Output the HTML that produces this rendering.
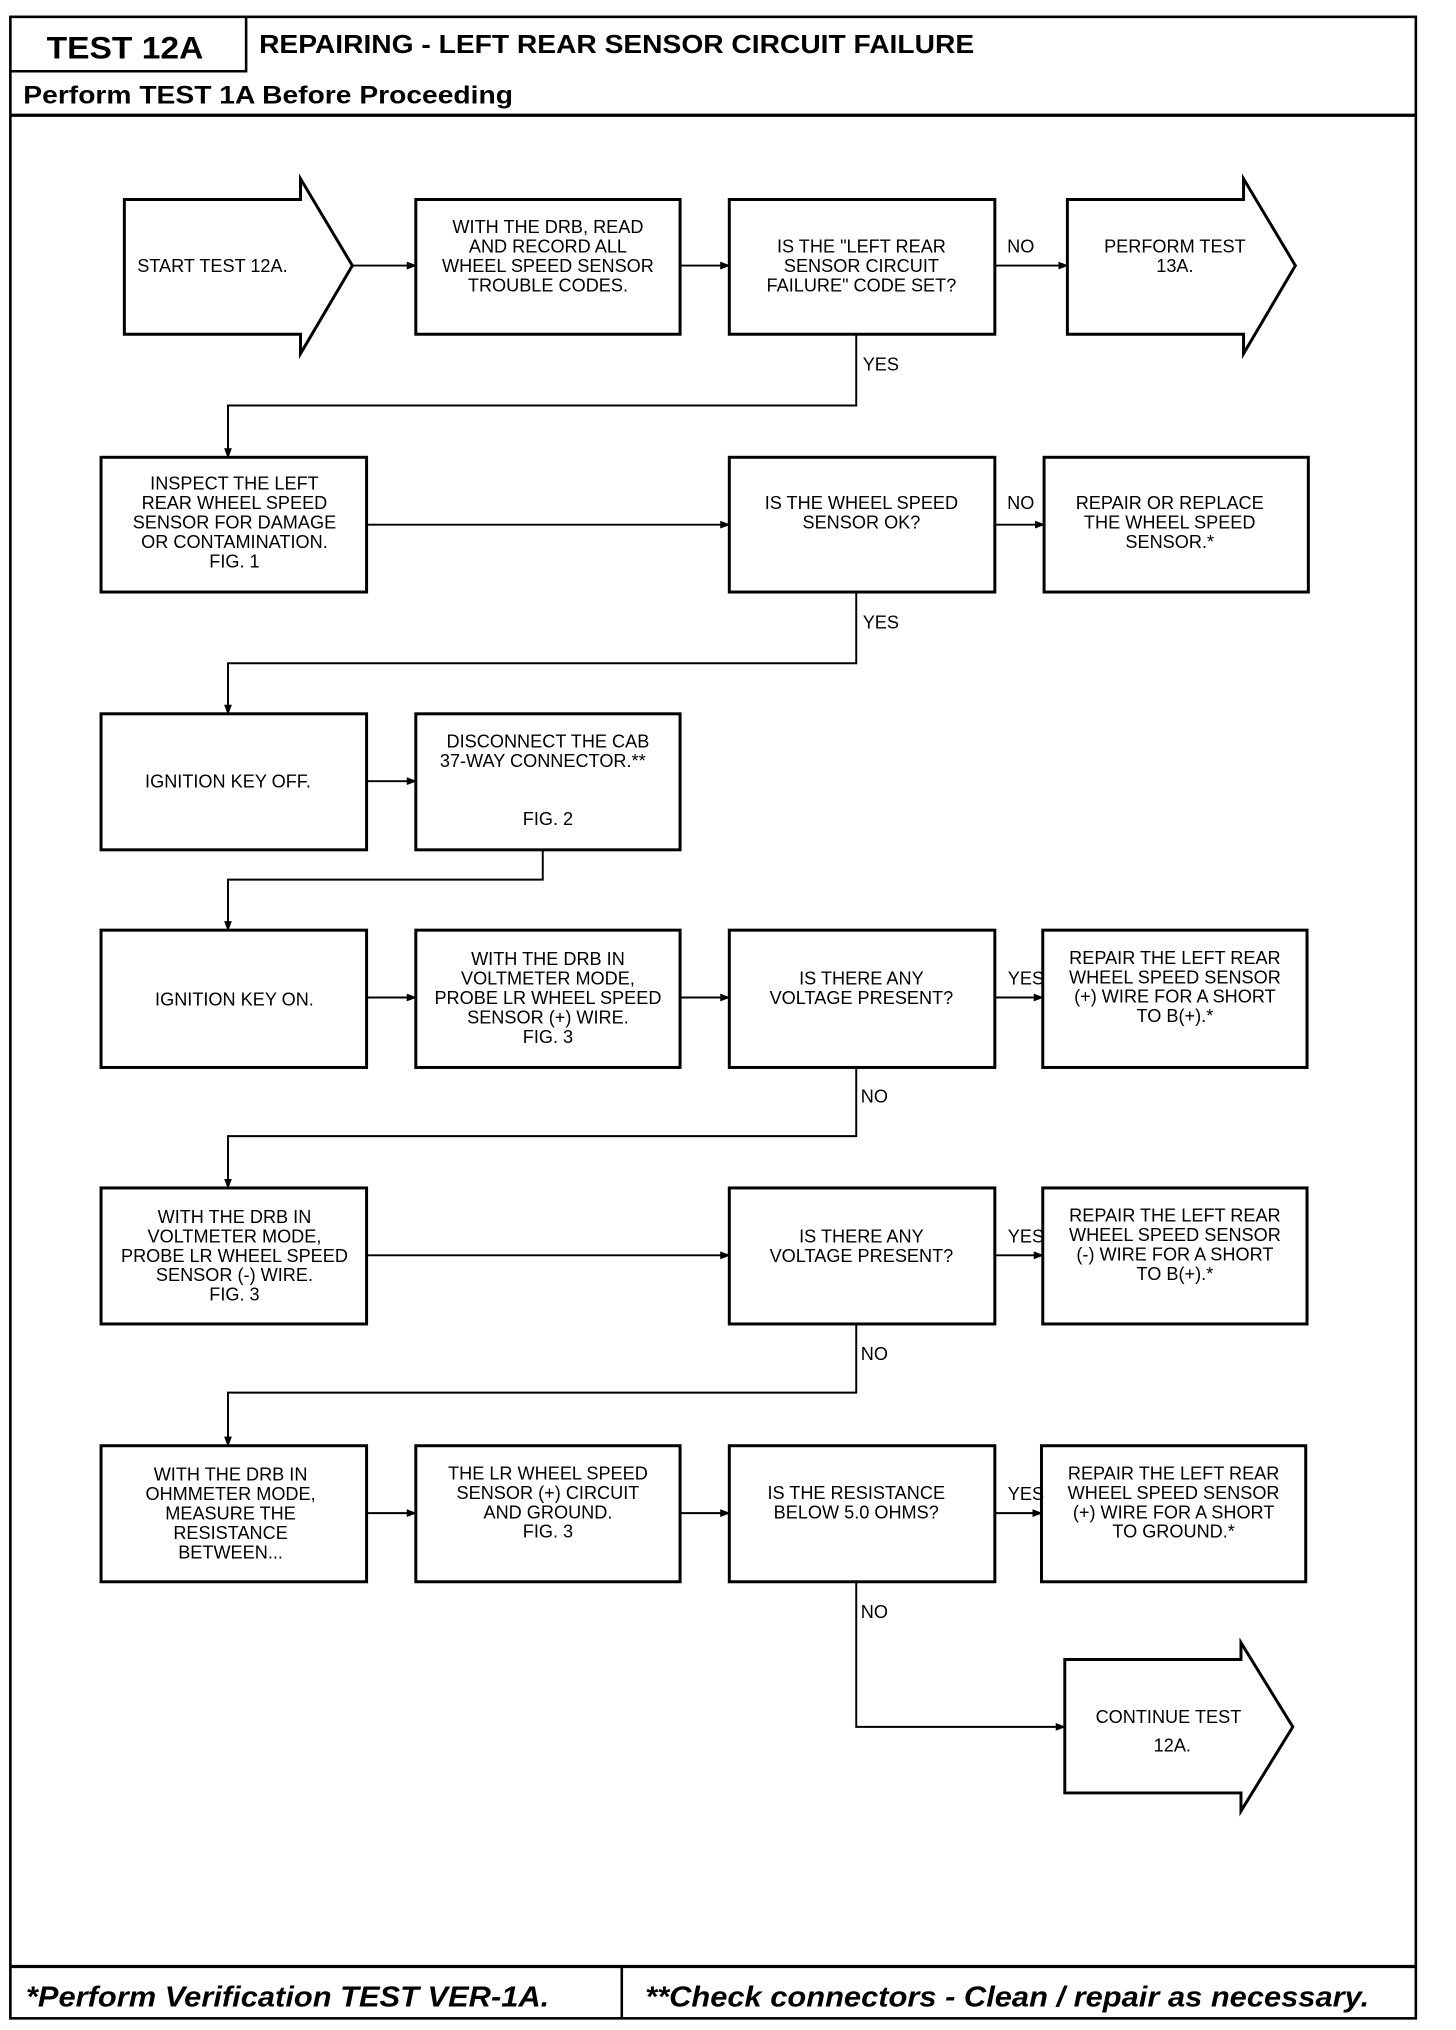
<!DOCTYPE html>
<html><head><meta charset="utf-8"><style>
html,body{margin:0;padding:0;background:#fff;}
svg{display:block;}
.t{font-family:"Liberation Sans",sans-serif;font-size:14px;fill:#000;text-anchor:middle;}
.h{font-family:"Liberation Sans",sans-serif;font-weight:bold;fill:#000;}
</style></head><body>
<svg width="1456" height="2030" viewBox="0 0 1124 1567" preserveAspectRatio="none" xmlns="http://www.w3.org/2000/svg">
<defs><marker id="a" markerWidth="8" markerHeight="8" refX="7" refY="4" orient="auto" markerUnits="userSpaceOnUse"><path d="M0,1 L8,4 L0,7 Z" fill="#000"/></marker></defs>
<g fill="none" stroke="#000">
<rect x="8" y="13" width="1085" height="1545" stroke-width="2"/>
<line x1="8" y1="89" x2="1093" y2="89" stroke-width="2.5"/>
<path d="M8,55 H190 V13" stroke-width="2"/>
<line x1="8" y1="1518" x2="1093" y2="1518" stroke-width="2.5"/>
<line x1="480" y1="1518" x2="480" y2="1558" stroke-width="2"/>
</g>
<text class="h" x="36" y="45" font-size="24" textLength="121" lengthAdjust="spacingAndGlyphs">TEST 12A</text>
<text class="h" x="200" y="41" font-size="20" textLength="552" lengthAdjust="spacingAndGlyphs">REPAIRING - LEFT REAR SENSOR CIRCUIT FAILURE</text>
<text class="h" x="18" y="80" font-size="19" textLength="378" lengthAdjust="spacingAndGlyphs">Perform TEST 1A Before Proceeding</text>
<text class="h" x="20" y="1549" font-size="22" font-style="italic" textLength="404" lengthAdjust="spacingAndGlyphs">*Perform Verification TEST VER-1A.</text>
<text class="h" x="498" y="1549" font-size="22" font-style="italic" textLength="559" lengthAdjust="spacingAndGlyphs">**Check connectors - Clean / repair as necessary.</text>

<g fill="none" stroke="#000" stroke-width="2.3">
<path d="M96,154 H232 V138 L272,205 L232,273 V258 H96 Z"/>
<path d="M824,154 H960 V138 L1000,205 L960,273 V258 H824 Z"/>
<path d="M822,1281 H958 V1268 L998,1333 L958,1398 V1384 H822 Z"/>
<rect x="321" y="154" width="204" height="104"/>
<rect x="563" y="154" width="205" height="104"/>
<rect x="78" y="353" width="205" height="104"/>
<rect x="563" y="353" width="205" height="104"/>
<rect x="806" y="353" width="204" height="104"/>
<rect x="78" y="551" width="205" height="105"/>
<rect x="321" y="551" width="204" height="105"/>
<rect x="78" y="718" width="205" height="106"/>
<rect x="321" y="718" width="204" height="106"/>
<rect x="563" y="718" width="205" height="106"/>
<rect x="805" y="718" width="204" height="106"/>
<rect x="78" y="917" width="205" height="105"/>
<rect x="563" y="917" width="205" height="105"/>
<rect x="805" y="917" width="204" height="105"/>
<rect x="78" y="1116" width="205" height="105"/>
<rect x="321" y="1116" width="204" height="105"/>
<rect x="563" y="1116" width="205" height="105"/>
<rect x="804" y="1116" width="204" height="105"/>
</g>
<g fill="none" stroke="#000" stroke-width="1.5" marker-end="url(#a)">
<line x1="272" y1="205" x2="321" y2="205"/>
<line x1="525" y1="205" x2="563" y2="205"/>
<line x1="768" y1="205" x2="824" y2="205"/>
<path d="M661,258 V313 H176 V353"/>
<line x1="283" y1="405" x2="563" y2="405"/>
<line x1="768" y1="405" x2="806" y2="405"/>
<path d="M661,457 V512 H176 V551"/>
<line x1="283" y1="603" x2="321" y2="603"/>
<path d="M419,656 V679 H176 V718"/>
<line x1="283" y1="770" x2="321" y2="770"/>
<line x1="525" y1="770" x2="563" y2="770"/>
<line x1="768" y1="770" x2="805" y2="770"/>
<path d="M661,824 V877 H176 V917"/>
<line x1="283" y1="969" x2="563" y2="969"/>
<line x1="768" y1="969" x2="805" y2="969"/>
<path d="M661,1022 V1075 H176 V1116"/>
<line x1="283" y1="1168" x2="321" y2="1168"/>
<line x1="525" y1="1168" x2="563" y2="1168"/>
<line x1="768" y1="1168" x2="804" y2="1168"/>
<path d="M661,1221 V1333 H822"/>
</g>
<g class="t">
<text x="164" y="210">START TEST 12A.</text>
<text x="423" y="180">WITH THE DRB, READ</text><text x="423" y="195">AND RECORD ALL</text><text x="423" y="210">WHEEL SPEED SENSOR</text><text x="423" y="225">TROUBLE CODES.</text>
<text x="665" y="195">IS THE "LEFT REAR</text><text x="665" y="210">SENSOR CIRCUIT</text><text x="665" y="225">FAILURE" CODE SET?</text>
<text x="907" y="195">PERFORM TEST</text><text x="907" y="210">13A.</text>
<text x="788" y="195">NO</text><text x="680" y="286">YES</text>
<text x="181" y="378">INSPECT THE LEFT</text><text x="181" y="393">REAR WHEEL SPEED</text><text x="181" y="408">SENSOR FOR DAMAGE</text><text x="181" y="423">OR CONTAMINATION.</text><text x="181" y="438">FIG. 1</text>
<text x="665" y="393">IS THE WHEEL SPEED</text><text x="665" y="408">SENSOR OK?</text>
<text x="903" y="393">REPAIR OR REPLACE</text><text x="903" y="408">THE WHEEL SPEED</text><text x="903" y="423">SENSOR.*</text>
<text x="788" y="393">NO</text><text x="680" y="485">YES</text>
<text x="176" y="608">IGNITION KEY OFF.</text>
<text x="423" y="577">DISCONNECT THE CAB</text><text x="419" y="592">37-WAY CONNECTOR.**</text><text x="423" y="637">FIG. 2</text>
<text x="181" y="776">IGNITION KEY ON.</text>
<text x="423" y="745">WITH THE DRB IN</text><text x="423" y="760">VOLTMETER MODE,</text><text x="423" y="775">PROBE LR WHEEL SPEED</text><text x="423" y="790">SENSOR (+) WIRE.</text><text x="423" y="805">FIG. 3</text>
<text x="665" y="760">IS THERE ANY</text><text x="665" y="775">VOLTAGE PRESENT?</text>
<text x="907" y="744">REPAIR THE LEFT REAR</text><text x="907" y="759">WHEEL SPEED SENSOR</text><text x="907" y="774">(+) WIRE FOR A SHORT</text><text x="907" y="789">TO B(+).*</text>
<text x="792" y="760">YES</text><text x="675" y="851">NO</text>
<text x="181" y="944">WITH THE DRB IN</text><text x="181" y="959">VOLTMETER MODE,</text><text x="181" y="974">PROBE LR WHEEL SPEED</text><text x="181" y="989">SENSOR (-) WIRE.</text><text x="181" y="1004">FIG. 3</text>
<text x="665" y="959">IS THERE ANY</text><text x="665" y="974">VOLTAGE PRESENT?</text>
<text x="907" y="943">REPAIR THE LEFT REAR</text><text x="907" y="958">WHEEL SPEED SENSOR</text><text x="907" y="973">(-) WIRE FOR A SHORT</text><text x="907" y="988">TO B(+).*</text>
<text x="792" y="959">YES</text><text x="675" y="1050">NO</text>
<text x="178" y="1143">WITH THE DRB IN</text><text x="178" y="1158">OHMMETER MODE,</text><text x="178" y="1173">MEASURE THE</text><text x="178" y="1188">RESISTANCE</text><text x="178" y="1203">BETWEEN...</text>
<text x="423" y="1142">THE LR WHEEL SPEED</text><text x="423" y="1157">SENSOR (+) CIRCUIT</text><text x="423" y="1172">AND GROUND.</text><text x="423" y="1187">FIG. 3</text>
<text x="661" y="1157">IS THE RESISTANCE</text><text x="661" y="1172">BELOW 5.0 OHMS?</text>
<text x="906" y="1142">REPAIR THE LEFT REAR</text><text x="906" y="1157">WHEEL SPEED SENSOR</text><text x="906" y="1172">(+) WIRE FOR A SHORT</text><text x="906" y="1187">TO GROUND.*</text>
<text x="792" y="1158">YES</text><text x="675" y="1249">NO</text>
<text x="902" y="1330">CONTINUE TEST</text><text x="905" y="1352">12A.</text>
</g>
</svg>
</body></html>
